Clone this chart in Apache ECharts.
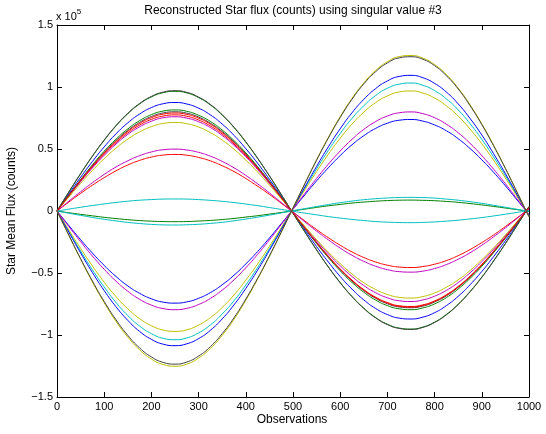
<!DOCTYPE html>
<html>
<head>
<meta charset="utf-8">
<script src="https://cdn.jsdelivr.net/npm/echarts@6/dist/echarts.min.js"></script>
<style>html,body{margin:0;padding:0;background:#fff;}#c{width:546px;height:434px;}</style>
</head>
<body>
<div id="c"></div>
<script>
// Observations (x) at which values were read
const OBS = [0,25,50,75,100,125,150,175,200,225,250,275,300,325,350,375,400,425,450,475,500,525,550,575,600,625,650,675,700,725,750,775,800,825,850,875,900,925,950,975,1000];
// Star mean flux values, in units of 1e5 counts
const S1  = [0,0.138,0.272,0.399,0.517,0.622,0.711,0.782,0.834,0.865,0.875,0.863,0.829,0.775,0.701,0.610,0.503,0.385,0.256,0.121,-0.017,-0.153,-0.287,-0.412,-0.528,-0.630,-0.717,-0.786,-0.835,-0.864,-0.871,-0.856,-0.820,-0.763,-0.688,-0.595,-0.488,-0.368,-0.240,-0.104,0.033];
const S2  = [0,0.152,0.300,0.441,0.570,0.686,0.784,0.863,0.920,0.954,0.965,0.952,0.914,0.855,0.773,0.673,0.555,0.424,0.283,0.134,-0.018,-0.168,-0.313,-0.451,-0.577,-0.689,-0.783,-0.859,-0.913,-0.944,-0.952,-0.936,-0.896,-0.834,-0.752,-0.650,-0.533,-0.402,-0.262,-0.114,0.036];
const S3  = [0,0.122,0.241,0.354,0.458,0.551,0.630,0.693,0.739,0.766,0.775,0.764,0.734,0.686,0.621,0.540,0.446,0.341,0.227,0.107,-0.015,-0.136,-0.253,-0.365,-0.467,-0.557,-0.634,-0.695,-0.738,-0.764,-0.770,-0.757,-0.725,-0.675,-0.608,-0.526,-0.431,-0.325,-0.212,-0.092,0.029];
const S4  = [0,0.015,0.030,0.044,0.057,0.069,0.079,0.087,0.092,0.096,0.097,0.096,0.092,0.086,0.078,0.068,0.056,0.043,0.028,0.013,-0.002,-0.017,-0.031,-0.045,-0.057,-0.068,-0.077,-0.085,-0.090,-0.093,-0.094,-0.092,-0.088,-0.082,-0.074,-0.064,-0.053,-0.040,-0.026,-0.011,0.004];
const S5  = [0,0.120,0.236,0.347,0.449,0.540,0.618,0.679,0.724,0.752,0.760,0.749,0.720,0.673,0.609,0.530,0.437,0.334,0.223,0.105,-0.014,-0.129,-0.240,-0.346,-0.442,-0.528,-0.601,-0.659,-0.700,-0.724,-0.730,-0.717,-0.687,-0.640,-0.577,-0.499,-0.409,-0.308,-0.201,-0.087,0.028];
const S6  = [0,0.112,0.222,0.326,0.422,0.507,0.580,0.638,0.680,0.706,0.714,0.704,0.677,0.632,0.572,0.498,0.411,0.314,0.209,0.099,-0.013,-0.124,-0.231,-0.332,-0.425,-0.508,-0.578,-0.633,-0.673,-0.696,-0.702,-0.690,-0.661,-0.615,-0.555,-0.480,-0.393,-0.297,-0.193,-0.084,0.027];
const S7  = [0,0.153,0.302,0.443,0.573,0.689,0.788,0.867,0.924,0.959,0.970,0.957,0.919,0.859,0.777,0.676,0.558,0.426,0.284,0.134,-0.018,-0.168,-0.314,-0.452,-0.579,-0.691,-0.786,-0.862,-0.916,-0.947,-0.955,-0.939,-0.899,-0.837,-0.754,-0.652,-0.535,-0.403,-0.263,-0.114,0.036];
const S8  = [0,-0.117,-0.231,-0.339,-0.439,-0.528,-0.604,-0.664,-0.708,-0.735,-0.743,-0.733,-0.704,-0.658,-0.595,-0.518,-0.427,-0.327,-0.218,-0.103,0.014,0.130,0.243,0.349,0.447,0.534,0.607,0.666,0.708,0.732,0.738,0.725,0.694,0.647,0.583,0.504,0.413,0.312,0.203,0.088,-0.028];
const S9  = [0,0.128,0.253,0.372,0.482,0.579,0.662,0.729,0.777,0.806,0.815,0.804,0.772,0.722,0.653,0.568,0.469,0.358,0.239,0.113,-0.015,-0.140,-0.262,-0.377,-0.482,-0.576,-0.655,-0.718,-0.763,-0.789,-0.796,-0.782,-0.749,-0.698,-0.629,-0.544,-0.446,-0.336,-0.219,-0.095,0.030];
const S10 = [0,0.072,0.142,0.208,0.269,0.324,0.371,0.408,0.435,0.451,0.456,0.450,0.432,0.404,0.365,0.318,0.262,0.200,0.134,0.063,-0.009,-0.080,-0.150,-0.216,-0.276,-0.330,-0.375,-0.411,-0.437,-0.452,-0.456,-0.448,-0.429,-0.400,-0.360,-0.311,-0.255,-0.193,-0.125,-0.055,0.017];
const S11 = [0,-0.163,-0.323,-0.474,-0.613,-0.738,-0.843,-0.928,-0.989,-1.027,-1.038,-1.024,-0.983,-0.919,-0.831,-0.724,-0.597,-0.456,-0.304,-0.144,0.020,0.182,0.340,0.489,0.625,0.747,0.849,0.931,0.990,1.023,1.032,1.014,0.971,0.904,0.815,0.705,0.578,0.436,0.284,0.124,-0.039];
const S12 = [0,0.079,0.155,0.228,0.295,0.355,0.405,0.446,0.476,0.494,0.499,0.492,0.473,0.442,0.400,0.348,0.287,0.219,0.146,0.069,-0.009,-0.087,-0.162,-0.233,-0.299,-0.357,-0.406,-0.445,-0.473,-0.489,-0.493,-0.485,-0.464,-0.432,-0.389,-0.337,-0.276,-0.208,-0.136,-0.059,0.019];
const S13 = [0,-0.153,-0.302,-0.443,-0.574,-0.690,-0.789,-0.868,-0.925,-0.960,-0.971,-0.958,-0.920,-0.860,-0.778,-0.677,-0.558,-0.427,-0.285,-0.135,0.018,0.170,0.318,0.458,0.587,0.701,0.797,0.874,0.928,0.960,0.968,0.951,0.911,0.848,0.765,0.661,0.542,0.409,0.266,0.116,-0.037];
const S14 = [0,0.126,0.249,0.365,0.473,0.568,0.650,0.715,0.762,0.791,0.800,0.789,0.758,0.708,0.641,0.558,0.460,0.352,0.234,0.111,-0.015,-0.137,-0.257,-0.369,-0.473,-0.564,-0.642,-0.704,-0.748,-0.774,-0.780,-0.767,-0.734,-0.684,-0.616,-0.533,-0.437,-0.329,-0.215,-0.093,0.030];
const S15 = [0,-0.171,-0.338,-0.496,-0.642,-0.772,-0.882,-0.971,-1.035,-1.074,-1.086,-1.071,-1.029,-0.962,-0.870,-0.757,-0.624,-0.477,-0.318,-0.151,0.021,0.193,0.360,0.518,0.663,0.792,0.900,0.987,1.049,1.085,1.094,1.075,1.029,0.959,0.864,0.747,0.613,0.462,0.301,0.131,-0.042];
const S16 = [0,-0.014,-0.027,-0.039,-0.051,-0.061,-0.070,-0.077,-0.082,-0.085,-0.086,-0.085,-0.081,-0.076,-0.069,-0.060,-0.049,-0.038,-0.025,-0.012,0.002,0.015,0.029,0.042,0.053,0.064,0.072,0.079,0.084,0.087,0.088,0.086,0.083,0.077,0.070,0.060,0.049,0.037,0.024,0.011,-0.003];
const S17 = [0,0.124,0.246,0.361,0.467,0.561,0.642,0.706,0.753,0.781,0.790,0.779,0.749,0.700,0.633,0.551,0.454,0.347,0.231,0.109,-0.015,-0.136,-0.255,-0.367,-0.470,-0.561,-0.638,-0.699,-0.743,-0.769,-0.775,-0.762,-0.729,-0.679,-0.612,-0.529,-0.434,-0.327,-0.213,-0.093,0.029];
const S18 = [0,-0.018,-0.035,-0.052,-0.067,-0.080,-0.092,-0.101,-0.108,-0.112,-0.113,-0.111,-0.107,-0.100,-0.091,-0.079,-0.065,-0.050,-0.033,-0.016,0.002,0.019,0.036,0.052,0.067,0.080,0.091,0.099,0.105,0.109,0.110,0.108,0.104,0.096,0.087,0.075,0.062,0.046,0.030,0.013,-0.004];
const S19 = [0,-0.125,-0.247,-0.363,-0.470,-0.566,-0.647,-0.712,-0.759,-0.787,-0.796,-0.785,-0.754,-0.705,-0.638,-0.555,-0.458,-0.350,-0.233,-0.110,0.015,0.141,0.263,0.378,0.484,0.578,0.658,0.721,0.766,0.792,0.799,0.785,0.752,0.700,0.631,0.546,0.447,0.337,0.220,0.096,-0.030];
const S20 = [0,-0.197,-0.389,-0.572,-0.740,-0.890,-1.017,-1.119,-1.194,-1.238,-1.252,-1.235,-1.186,-1.109,-1.003,-0.873,-0.720,-0.550,-0.367,-0.174,0.024,0.221,0.413,0.594,0.761,0.908,1.033,1.133,1.204,1.245,1.254,1.233,1.181,1.100,0.991,0.857,0.703,0.530,0.345,0.150,-0.048];
const S21 = [0,-0.194,-0.384,-0.564,-0.730,-0.877,-1.003,-1.104,-1.177,-1.221,-1.235,-1.218,-1.170,-1.094,-0.989,-0.861,-0.710,-0.543,-0.362,-0.171,0.024,0.219,0.410,0.589,0.754,0.901,1.025,1.123,1.194,1.235,1.244,1.224,1.172,1.091,0.984,0.850,0.697,0.526,0.342,0.149,-0.047];
const SERIES = [S1,S2,S3,S4,S5,S6,S7,S8,S9,S10,S11,S12,S13,S14,S15,S16,S17,S18,S19,S20,S21];
const COLORS = ['#0000ff','#008000','#ff0000','#00bfbf','#bf00bf','#bfbf00','#404040'];
const TITLE = 'Reconstructed Star flux (counts) using singular value #3';
const XLABEL = 'Observations';
const YLABEL = 'Star Mean Flux (counts)';

const FONT = 'Liberation Sans, Arial, Helvetica, sans-serif';
const chart = echarts.init(document.getElementById('c'), null, {renderer:'canvas'});
const gl = {left:57, right:17, top:25, bottom:37};
const fmtY = v => v < 0 ? '\u2212' + String(Math.abs(v)) : String(v);
const fmtX = v => String(v);
const axisCommon = {
  axisLine:{show:true, onZero:false, lineStyle:{color:'#000', width:1}},
  axisTick:{show:true, inside:true, length:5, lineStyle:{color:'#000'}},
  splitLine:{show:false}
};
const option = {
  animation:false,
  backgroundColor:'#fff',
  grid:gl,
  xAxis:[
    Object.assign({type:'value', min:0, max:1000, interval:100, position:'bottom',
      axisLabel:{color:'#000', fontSize:11, fontFamily:FONT, margin:4, formatter:fmtX}}, axisCommon),
    Object.assign({type:'value', min:0, max:1000, interval:100, position:'top',
      axisLabel:{show:false}}, axisCommon)
  ],
  yAxis:[
    Object.assign({type:'value', min:-1.5, max:1.5, interval:0.5, position:'left',
      axisLabel:{color:'#000', fontSize:11, fontFamily:FONT, margin:4, formatter:fmtY}}, axisCommon),
    Object.assign({type:'value', min:-1.5, max:1.5, interval:0.5, position:'right',
      axisLabel:{show:false}}, axisCommon)
  ],
  series: SERIES.map((arr, i) => ({
    type:'line', smooth:true, symbol:'none', xAxisIndex:0, yAxisIndex:0,
    data: arr.map((v, j) => [OBS[j], v]),
    lineStyle:{color:COLORS[i % COLORS.length], width:1},
    itemStyle:{color:COLORS[i % COLORS.length]}
  })),
  graphic:[
    {type:'text', x:293, y:5, style:{text:TITLE, fill:'#000', font:'12px ' + FONT, textAlign:'center'}},
    {type:'text', x:292, y:414, style:{text:XLABEL, fill:'#000', font:'12px ' + FONT, textAlign:'center'}},
    {type:'text', x:6, y:211, rotation:Math.PI/2, style:{text:YLABEL, fill:'#000', font:'12px ' + FONT, textAlign:'center', textVerticalAlign:'top'}},
    {type:'text', x:56, y:8, style:{text:'{a|x 10}{b|5}', rich:{a:{fontSize:11, fontFamily:FONT, color:'#000', verticalAlign:'bottom'}, b:{fontSize:8, fontFamily:FONT, color:'#000', verticalAlign:'top', padding:[0,0,6,0]}}}}
  ]
};
chart.setOption(option);
</script>
</body>
</html>
